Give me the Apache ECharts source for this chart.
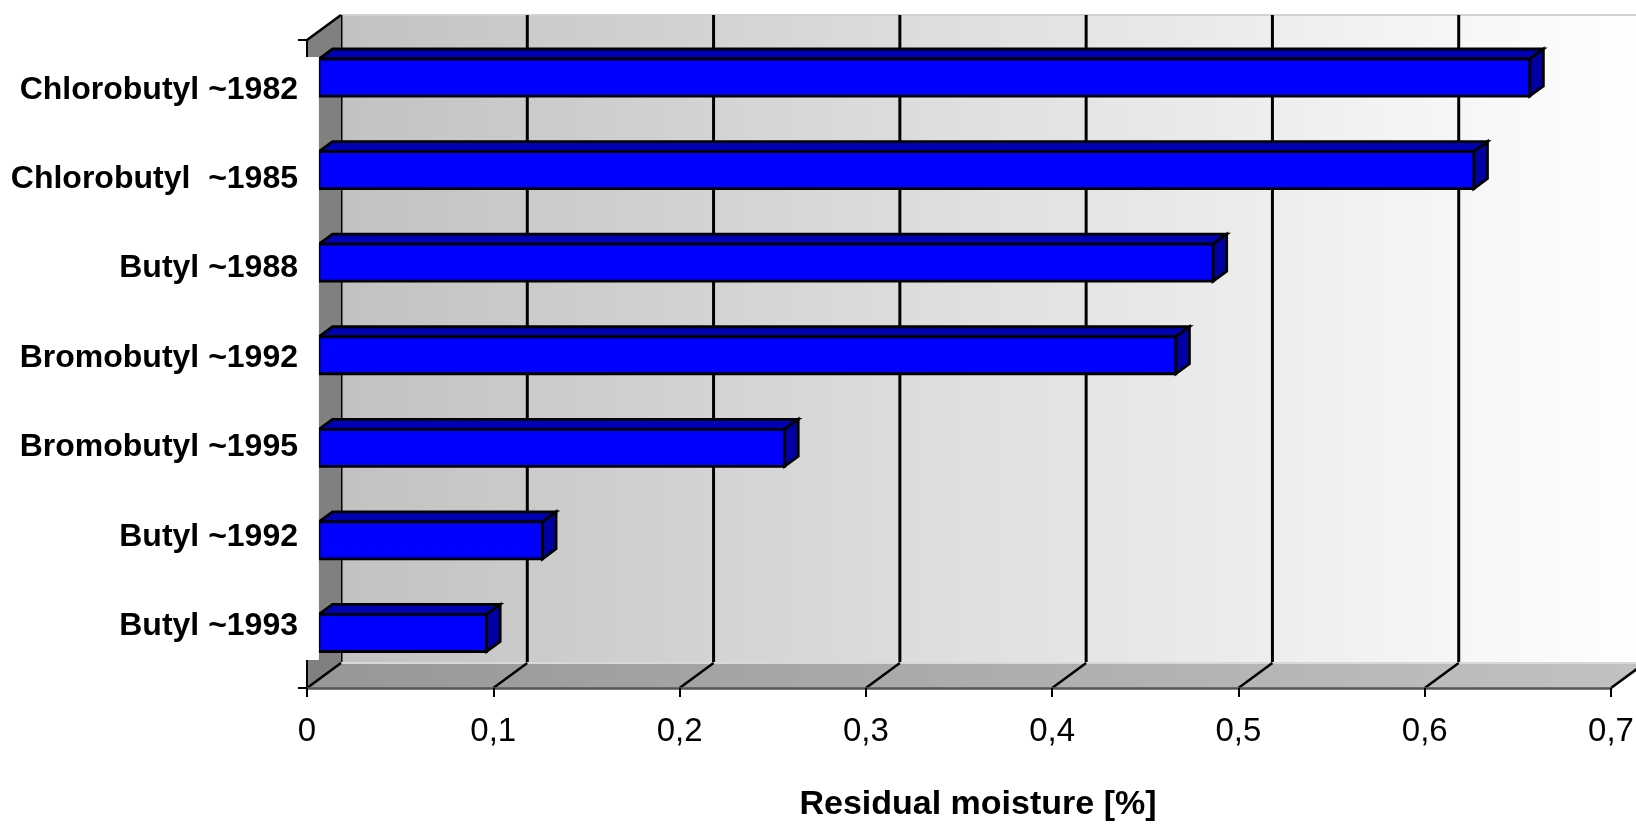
<!DOCTYPE html>
<html><head><meta charset="utf-8">
<script src="https://cdn.jsdelivr.net/npm/echarts@6/dist/echarts.min.js"></script>
<style>html,body{margin:0;padding:0;background:#fff}#c{width:1636px;height:824px}</style>
</head><body><div id="c"></div>
<script>
// ---- data ----
const categories = ['Chlorobutyl ~1982', 'Chlorobutyl  ~1985', 'Butyl ~1988', 'Bromobutyl ~1992', 'Bromobutyl ~1995', 'Butyl ~1992', 'Butyl ~1993'];
const residualMoisture = [0.65, 0.62, 0.48, 0.46, 0.25, 0.12, 0.09];
const xTicks = [0, 0.1, 0.2, 0.3, 0.4, 0.5, 0.6, 0.7];
const xMin = 0, xMax = 0.7, xStep = 0.1;
const axisTitle = 'Residual moisture [%]';

// ---- 3D look (styles) ----
const DX = 34, DY = -25;          // full depth offset in px
const BAR_D1 = 0.35, BAR_D2 = 0.75; // bar front/back depth fraction
const BAR_FRAC = 0.4;
const FONT = "'Liberation Sans', Arial, Helvetica, sans-serif";

function sceneItem(params, api) {
  const cs = params.coordSys;
  const top = cs.y, bottom = cs.y + cs.height;
  const X0 = api.coord([xMin, 0])[0], X1 = api.coord([xMax, 0])[0];
  const ch = [];
  // back wall
  ch.push({type: 'rect', shape: {x: X0 + DX, y: top + DY, width: X1 - X0, height: bottom - top},
    style: {fill: new echarts.graphic.LinearGradient(0, 0, 1, 0, [{offset: 0, color: '#c2c2c2'}, {offset: 1, color: '#ffffff'}])}});
  ch.push({type: 'line', shape: {x1: X0 + DX, y1: top + DY, x2: X1 + DX, y2: top + DY}, style: {stroke: '#d2d2d2', lineWidth: 2}});
  // vertical gridlines on back wall
  xTicks.forEach(v => {
    const x = api.coord([v, 0])[0];
    ch.push({type: 'line', shape: {x1: x + DX, y1: top + DY, x2: x + DX, y2: bottom + DY}, style: {stroke: '#000', lineWidth: 3}});
  });
  // side wall
  ch.push({type: 'polygon', shape: {points: [[X0, top], [X0 + DX, top + DY], [X0 + DX, bottom + DY], [X0, bottom]]}, style: {fill: '#808080'}});
  ch.push({type: 'line', shape: {x1: X0, y1: top, x2: X0 + DX, y2: top + DY}, style: {stroke: '#000', lineWidth: 2.5}});
  // floor
  ch.push({type: 'polygon', shape: {points: [[X0, bottom], [X1, bottom], [X1 + DX, bottom + DY], [X0 + DX, bottom + DY]]},
    style: {fill: new echarts.graphic.LinearGradient(0, 0, 1, 0, [{offset: 0, color: '#979797'}, {offset: 1, color: '#c2c2c2'}])}});
  ch.push({type: 'line', shape: {x1: X0 + DX, y1: bottom + DY, x2: X1 + DX, y2: bottom + DY}, style: {stroke: '#d8d8d8', lineWidth: 2}});
  xTicks.forEach(v => {
    const x = api.coord([v, 0])[0];
    ch.push({type: 'line', shape: {x1: x, y1: bottom, x2: x + DX, y2: bottom + DY}, style: {stroke: '#000', lineWidth: 2.5}});
  });
  return {type: 'group', children: ch};
}

function maskItem(params, api) {
  const cs = params.coordSys;
  const top = cs.y, bottom = cs.y + cs.height;
  const X0 = api.coord([xMin, 0])[0];
  return {type: 'rect', shape: {x: X0 - 22, y: top + 17, width: 22 + DX * BAR_D1, height: (bottom + DY - 3) - (top + 17)}, style: {fill: '#ffffff'}};
}

function barItem(params, api) {
  const v = api.value(0), idx = api.value(1);
  const c0 = api.coord([xMin, idx]);
  const c1 = api.coord([v, idx]);
  const bw = api.size([0, 1])[1] * BAR_FRAC;
  const xa = c0[0], xb = c1[0];
  const yt = c0[1] - bw / 2, yb = c0[1] + bw / 2;
  const ox1 = DX * BAR_D1, oy1 = DY * BAR_D1, ox2 = DX * BAR_D2, oy2 = DY * BAR_D2;
  const line = {stroke: '#000', lineWidth: 2.8, lineJoin: 'miter'};
  return {type: 'group', children: [
    {type: 'polygon', shape: {points: [[xa + ox1, yt + oy1], [xb + ox1, yt + oy1], [xb + ox2, yt + oy2], [xa + ox2, yt + oy2]]}, style: Object.assign({fill: '#0000b4'}, line)},
    {type: 'polygon', shape: {points: [[xb + ox1, yt + oy1], [xb + ox2, yt + oy2], [xb + ox2, yb + oy2], [xb + ox1, yb + oy1]]}, style: Object.assign({fill: '#0000a4'}, line)},
    {type: 'rect', shape: {x: xa + ox1, y: yt + oy1, width: xb - xa, height: bw}, style: Object.assign({fill: '#0000ff'}, line)}
  ]};
}

const chart = echarts.init(document.getElementById('c'), null, {renderer: 'canvas'});
chart.setOption({
  animation: false,
  backgroundColor: '#ffffff',
  grid: [
    {left: 307, right: 25, top: 40, bottom: 136, outerBoundsMode: 'none', containLabel: false},
    {left: 307, right: 25, top: 45, bottom: 153, outerBoundsMode: 'none', containLabel: false}
  ],
  xAxis: [
    {type: 'value', gridIndex: 0, min: xMin, max: xMax, interval: xStep, z: 10,
      axisLine: {show: true, lineStyle: {color: '#555', width: 2.5}},
      axisTick: {show: true, length: 9, lineStyle: {color: '#000', width: 2}},
      splitLine: {show: false},
      axisLabel: {fontSize: 33, color: '#000', fontFamily: FONT, margin: 27,
        formatter: v => v === 0 ? '0' : String(+v.toFixed(1)).replace('.', ',')},
      name: axisTitle, nameLocation: 'middle', nameGap: 100,
      nameTextStyle: {fontSize: 34, fontWeight: 'bold', color: '#000', fontFamily: FONT, padding: [0, 0, 0, 38]}
    },
    {type: 'value', gridIndex: 1, min: 0, max: 1, show: false}
  ],
  yAxis: [
    {type: 'category', gridIndex: 0, data: categories, inverse: true, z: 10,
      axisLine: {show: true, lineStyle: {color: '#000', width: 2}},
      axisTick: {show: true, length: 9, lineStyle: {color: '#000', width: 2}},
      axisLabel: {show: false}, splitLine: {show: false}},
    {type: 'category', gridIndex: 1, data: categories, inverse: true, z: 12,
      axisLine: {show: false}, axisTick: {show: false}, splitLine: {show: false},
      axisLabel: {fontSize: 32, fontWeight: 'bold', color: '#000', fontFamily: FONT, margin: 9}}
  ],
  series: [
    {type: 'custom', name: 'scene', xAxisIndex: 0, yAxisIndex: 0, z: 1, silent: true, clip: false,
      renderItem: sceneItem, data: [[xMin, 0]]},
    {type: 'custom', name: 'Residual moisture', xAxisIndex: 0, yAxisIndex: 0, z: 3, clip: false,
      renderItem: barItem, encode: {x: 0, y: 1},
      data: residualMoisture.map((v, i) => [v, i])},
    {type: 'custom', name: 'labelArea', xAxisIndex: 0, yAxisIndex: 0, z: 11, silent: true, clip: false,
      renderItem: maskItem, data: [[xMin, 0]]}
  ]
});
</script>
</body></html>
